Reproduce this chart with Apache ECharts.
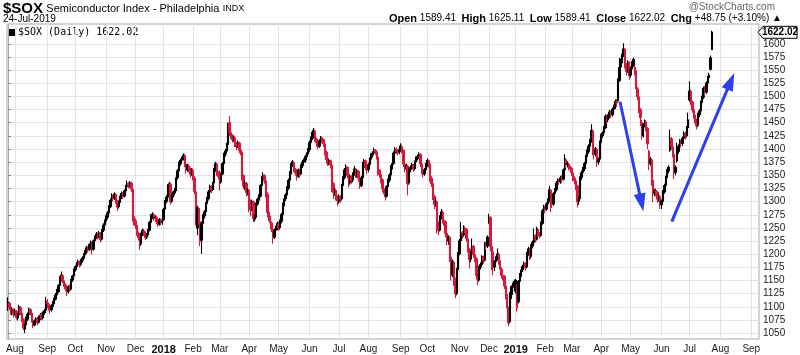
<!DOCTYPE html>
<html><head><meta charset="utf-8">
<script src="https://cdn.jsdelivr.net/npm/echarts@6/dist/echarts.min.js"></script>
<style>html,body{margin:0;padding:0;background:#fff}#c{width:800px;height:355px}</style>
</head><body><div id="c"></div>
<script>
// Month gridline positions (trading-day index) and labels
const monthTicks = [5,28,48,70,91,111,132,151,172,193,215,236,257,280,299,322,343,362,383,402,423,444,466,486,508,530];
const monthLabels = ['Aug','Sep','Oct','Nov','Dec','2018','Feb','Mar','Apr','May','Jun','Jul','Aug','Sep','Oct','Nov','Dec','2019','Feb','Mar','Apr','May','Jun','Jul','Aug','Sep'];
const priceTicks = [1050,1075,1100,1125,1150,1175,1200,1225,1250,1275,1300,1325,1350,1375,1400,1425,1450,1475,1500,1525,1550,1575,1600];
const lastClose = 1622.02;

// Daily bars [open, close, low, high], Jul 25 2017 .. Dec 29 2017
const bars2017 = [
[1100,1108,1092,1118],[1106,1098,1094,1110],[1099,1090,1085,1102],[1089,1095,1084,1099],[1094,1086,1080,1097],
[1087,1092,1083,1096],[1091,1080,1076,1094],[1079,1085,1074,1088],[1086,1100,1083,1104],[1098,1088,1084,1101],
[1087,1076,1071,1090],[1075,1060,1056,1078],[1058,1064,1050,1068],[1066,1078,1062,1081],[1077,1085,1073,1089],
[1086,1095,1082,1098],[1094,1088,1084,1097],[1087,1075,1070,1090],[1074,1065,1059,1078],[1066,1072,1063,1076],
[1071,1076,1067,1080],[1077,1070,1065,1081],[1071,1080,1068,1083],[1079,1084,1075,1088],[1085,1078,1074,1089],
[1079,1088,1076,1091],[1089,1092,1085,1096],[1094,1110,1092,1119],[1111,1106,1100,1115],[1105,1098,1093,1108],
[1097,1094,1087,1101],[1095,1102,1091,1105],[1101,1108,1098,1111],[1109,1116,1105,1119],[1115,1122,1112,1126],
[1123,1130,1119,1134],[1129,1140,1126,1143],[1141,1155,1138,1158],[1154,1160,1148,1167],[1159,1150,1145,1162],
[1149,1142,1138,1153],[1141,1135,1130,1145],[1134,1128,1120,1137],[1129,1138,1125,1141],[1137,1133,1128,1142],
[1134,1150,1131,1153],[1151,1158,1147,1161],[1159,1170,1156,1173],[1171,1176,1167,1179],[1177,1181,1172,1185],
[1182,1186,1178,1190],[1185,1180,1175,1188],[1181,1188,1177,1191],[1189,1192,1184,1196],[1193,1198,1189,1202],
[1199,1204,1194,1208],[1205,1212,1201,1216],[1211,1208,1203,1215],[1209,1218,1206,1221],[1219,1222,1214,1226],
[1221,1208,1200,1224],[1210,1225,1207,1228],[1226,1232,1222,1235],[1233,1238,1229,1242],[1237,1234,1228,1241],
[1235,1240,1231,1244],[1239,1228,1222,1242],[1229,1245,1226,1248],[1246,1255,1242,1259],[1256,1262,1252,1266],
[1263,1270,1258,1274],[1271,1278,1266,1282],[1279,1290,1276,1293],[1291,1302,1288,1306],[1303,1310,1299,1316],
[1309,1306,1300,1313],[1307,1314,1303,1318],[1313,1300,1296,1316],[1299,1290,1282,1303],[1291,1298,1287,1302],
[1299,1308,1295,1311],[1309,1315,1305,1319],[1314,1310,1305,1318],[1311,1320,1308,1323],[1321,1328,1317,1332],
[1329,1334,1325,1340],[1333,1330,1325,1337],[1331,1336,1327,1339],[1335,1324,1318,1338],[1323,1272,1262,1326],
[1271,1262,1255,1276],[1263,1255,1248,1268],[1254,1240,1235,1258],[1239,1232,1226,1243],[1231,1218,1209,1235],
[1220,1238,1216,1241],[1239,1245,1234,1249],[1244,1240,1235,1248],[1239,1232,1227,1243],[1233,1236,1229,1240],
[1237,1245,1233,1248],[1246,1260,1243,1263],[1261,1272,1258,1276],[1271,1276,1267,1280],[1275,1268,1263,1278],
[1269,1270,1264,1274],[1269,1262,1257,1272],[1261,1258,1252,1264],[1257,1266,1254,1269],[1265,1260,1255,1268],
[1261,1262,1256,1266]
];
// Jan 2 2018 .. Dec 31 2018
const bars2018 = [
[1266,1285,1263,1288],[1286,1300,1283,1303],[1301,1308,1297,1312],[1309,1330,1306,1333],[1331,1334,1326,1338],
[1333,1300,1294,1336],[1301,1312,1298,1315],[1313,1318,1308,1321],[1317,1322,1313,1326],[1323,1345,1320,1348],
[1346,1358,1342,1362],[1359,1372,1355,1376],[1373,1378,1368,1382],[1379,1382,1374,1386],[1383,1388,1378,1392],
[1387,1372,1366,1390],[1371,1360,1353,1375],[1361,1368,1357,1372],[1367,1362,1356,1371],[1361,1352,1346,1365],
[1353,1360,1349,1364],[1359,1345,1340,1363],[1344,1320,1314,1348],[1318,1262,1255,1322],[1250,1288,1236,1292],
[1287,1262,1256,1290],[1261,1225,1215,1266],[1227,1258,1201,1262],[1259,1272,1255,1276],[1273,1280,1268,1284],
[1281,1296,1277,1299],[1297,1305,1293,1309],[1306,1318,1302,1322],[1319,1328,1315,1332],[1327,1322,1316,1331],
[1323,1335,1320,1338],[1336,1360,1333,1364],[1361,1372,1357,1376],[1371,1355,1349,1374],[1354,1348,1342,1358],
[1347,1340,1321,1359],[1338,1352,1334,1355],[1353,1372,1350,1375],[1373,1390,1370,1393],[1391,1396,1386,1400],
[1397,1408,1393,1412],[1409,1445,1406,1450],[1450,1432,1425,1463],[1431,1425,1419,1436],[1424,1418,1412,1428],
[1419,1422,1414,1426],[1421,1410,1404,1424],[1409,1405,1398,1413],[1406,1412,1402,1416],[1411,1398,1392,1414],
[1397,1395,1388,1401],[1394,1350,1340,1396],[1349,1330,1324,1352],[1331,1335,1322,1340],[1334,1318,1310,1338],
[1319,1322,1312,1326],[1321,1300,1280,1324],[1299,1285,1272,1304],[1286,1300,1282,1304],[1299,1268,1261,1302],
[1267,1270,1262,1276],[1271,1295,1268,1298],[1296,1304,1292,1308],[1303,1310,1298,1314],[1311,1330,1308,1333],
[1331,1345,1328,1348],[1346,1350,1340,1356],[1349,1340,1334,1352],[1339,1315,1308,1342],[1314,1280,1270,1318],
[1279,1270,1263,1284],[1269,1260,1254,1273],[1259,1248,1242,1262],[1247,1232,1220,1250],[1233,1245,1229,1249],
[1246,1250,1240,1254],[1251,1258,1246,1262],[1257,1250,1244,1261],[1251,1262,1247,1266],[1263,1275,1259,1279],
[1276,1294,1272,1298],[1295,1305,1291,1309],[1306,1312,1301,1316],[1313,1325,1309,1329],[1326,1340,1322,1344],
[1341,1355,1337,1358],[1356,1372,1352,1376],[1373,1375,1366,1379],[1374,1362,1356,1377],[1361,1355,1349,1364],
[1354,1348,1340,1358],[1349,1360,1345,1363],[1359,1352,1346,1362],[1353,1368,1350,1371],[1369,1375,1364,1379],
[1376,1378,1371,1382],[1379,1385,1374,1389],[1386,1390,1381,1394],[1391,1398,1387,1402],[1399,1412,1395,1416],
[1413,1420,1408,1424],[1421,1432,1417,1436],[1433,1435,1427,1440],[1434,1420,1414,1437],[1419,1412,1405,1422],
[1411,1405,1400,1414],[1406,1415,1402,1419],[1416,1422,1411,1425],[1421,1418,1412,1424],[1417,1410,1404,1420],
[1409,1395,1388,1412],[1394,1380,1372,1397],[1379,1375,1368,1383],[1374,1378,1369,1382],[1377,1370,1363,1380],
[1369,1335,1318,1371],[1334,1318,1305,1337],[1317,1322,1311,1326],[1321,1310,1302,1324],[1309,1302,1291,1312],
[1301,1310,1296,1314],[1309,1305,1298,1312],[1306,1330,1302,1334],[1331,1345,1327,1348],[1346,1360,1342,1364],
[1361,1366,1355,1371],[1365,1350,1344,1367],[1349,1335,1327,1352],[1336,1348,1332,1352],[1347,1340,1334,1350],
[1341,1352,1337,1356],[1353,1362,1349,1368],[1361,1350,1345,1364],[1351,1358,1346,1362],[1357,1345,1338,1360],
[1344,1330,1324,1348],[1331,1345,1328,1349],[1346,1372,1343,1376],[1373,1378,1367,1381],[1377,1365,1360,1380],
[1364,1360,1352,1368],[1361,1370,1356,1374],[1371,1380,1366,1384],[1381,1388,1377,1392],[1389,1392,1384,1396],
[1393,1398,1388,1403],[1397,1395,1389,1400],[1394,1385,1380,1397],[1384,1360,1349,1386],[1359,1352,1346,1362],
[1351,1342,1335,1355],[1341,1325,1318,1344],[1324,1322,1314,1328],[1321,1310,1302,1324],[1311,1328,1308,1331],
[1329,1340,1325,1344],[1341,1350,1337,1354],[1351,1365,1348,1369],[1366,1372,1361,1376],[1373,1392,1370,1396],
[1393,1400,1389,1404],[1399,1396,1390,1403],[1397,1395,1388,1400],[1394,1398,1390,1402],[1399,1405,1395,1411],
[1404,1398,1392,1408],[1397,1372,1366,1399],[1371,1362,1356,1375],[1363,1368,1358,1372],[1367,1335,1312,1370],
[1336,1360,1332,1363],[1361,1365,1356,1369],[1366,1370,1361,1374],[1369,1362,1357,1372],[1363,1375,1359,1378],
[1376,1382,1371,1386],[1383,1385,1378,1389],[1386,1390,1381,1394],[1389,1372,1366,1392],[1371,1358,1352,1374],
[1357,1352,1346,1361],[1353,1360,1349,1364],[1361,1370,1356,1374],[1371,1378,1366,1382],[1377,1372,1365,1380],
[1371,1345,1338,1374],[1344,1335,1328,1348],[1334,1310,1303,1337],[1309,1295,1286,1313],[1296,1300,1290,1306],
[1299,1255,1240,1302],[1254,1245,1236,1262],[1246,1270,1243,1274],[1271,1280,1266,1286],[1279,1265,1258,1283],
[1264,1262,1254,1270],[1261,1240,1232,1264],[1239,1225,1217,1243],[1226,1232,1218,1236],[1231,1195,1185,1234],
[1194,1160,1150,1198],[1161,1185,1156,1190],[1184,1150,1140,1188],[1149,1125,1116,1155],[1126,1170,1122,1174],
[1171,1200,1168,1204],[1201,1225,1198,1229],[1226,1240,1222,1261],[1239,1238,1230,1244],[1237,1250,1233,1255],
[1249,1248,1240,1253],[1247,1230,1224,1250],[1229,1210,1203,1233],[1209,1190,1173,1212],[1191,1200,1185,1204],
[1201,1215,1196,1230],[1214,1200,1193,1218],[1199,1192,1185,1203],[1191,1160,1152,1194],[1159,1150,1141,1164],
[1151,1175,1148,1178],[1176,1180,1171,1184],[1181,1195,1177,1198],[1194,1188,1182,1197],[1189,1220,1186,1223],
[1219,1215,1208,1223],[1216,1232,1212,1236],[1262,1270,1258,1277],[1269,1215,1205,1272],[1214,1205,1170,1218],
[1204,1175,1160,1207],[1176,1185,1168,1189],[1186,1192,1180,1196],[1193,1200,1188,1211],[1199,1185,1180,1203],
[1184,1172,1167,1188],[1171,1160,1154,1175],[1159,1158,1150,1166],[1157,1140,1134,1161],[1139,1120,1114,1143],
[1119,1098,1091,1124],[1097,1070,1063,1100],[1072,1125,1068,1128],[1124,1138,1115,1141],[1137,1140,1130,1146],
[1139,1148,1135,1152]
];
// Jan 2 2019 .. Jul 24 2019
const bars2019 = [
[1130,1150,1125,1153],[1140,1098,1091,1143],[1110,1148,1106,1151],[1149,1160,1145,1164],[1161,1170,1157,1174],
[1171,1176,1166,1180],[1177,1182,1172,1186],[1181,1175,1169,1184],[1176,1200,1173,1204],[1201,1210,1197,1214],
[1209,1195,1189,1212],[1196,1215,1192,1219],[1216,1222,1211,1226],[1223,1235,1219,1249],[1234,1228,1222,1238],
[1229,1248,1226,1252],[1247,1238,1232,1250],[1237,1235,1230,1242],[1236,1258,1233,1262],[1259,1282,1256,1286],
[1283,1290,1278,1294],[1289,1285,1278,1292],[1286,1295,1282,1299],[1296,1302,1291,1306],[1303,1322,1299,1330],
[1321,1298,1280,1324],[1297,1295,1288,1301],[1296,1315,1292,1318],[1316,1322,1311,1326],[1323,1335,1319,1339],
[1336,1340,1331,1344],[1339,1338,1332,1343],[1339,1345,1334,1349],[1344,1342,1336,1350],[1343,1360,1340,1363],
[1361,1380,1357,1390],[1379,1370,1364,1383],[1371,1372,1365,1377],[1371,1365,1359,1374],[1364,1362,1355,1368],
[1363,1355,1349,1366],[1354,1345,1339,1358],[1344,1340,1333,1348],[1339,1330,1322,1343],[1329,1300,1289,1332],
[1301,1305,1294,1310],[1306,1345,1303,1348],[1346,1355,1341,1359],[1356,1362,1351,1366],[1363,1372,1358,1376],
[1373,1385,1369,1389],[1386,1395,1381,1399],[1396,1405,1391,1409],[1406,1415,1400,1419],[1416,1435,1412,1447],
[1434,1395,1388,1437],[1394,1390,1380,1398],[1391,1400,1386,1404],[1399,1375,1366,1402],[1376,1380,1370,1384],
[1381,1412,1378,1416],[1413,1425,1409,1429],[1426,1430,1421,1434],[1431,1440,1426,1444],[1441,1462,1438,1466],
[1461,1455,1449,1465],[1456,1462,1451,1466],[1463,1470,1458,1474],[1469,1465,1459,1473],[1466,1475,1462,1479],
[1476,1480,1471,1484],[1481,1490,1476,1494],[1489,1488,1480,1495],[1492,1530,1490,1534],[1531,1555,1528,1573],
[1556,1568,1550,1572],[1569,1580,1563,1585],[1581,1590,1575,1601],[1589,1560,1553,1592],[1559,1548,1540,1563],
[1549,1565,1545,1569],[1564,1540,1532,1567],[1541,1552,1536,1557],[1553,1562,1548,1567],[1561,1570,1556,1574],
[1555,1548,1540,1560],[1547,1515,1508,1550],[1514,1500,1493,1518],[1499,1475,1468,1502],[1474,1460,1444,1478],
[1450,1425,1418,1455],[1426,1445,1422,1449],[1446,1452,1441,1456],[1451,1440,1434,1455],[1439,1410,1400,1442],
[1395,1372,1360,1398],[1373,1380,1368,1385],[1379,1345,1330,1382],[1340,1315,1299,1343],[1316,1320,1310,1324],
[1321,1318,1310,1326],[1317,1305,1298,1320],[1306,1310,1300,1314],[1309,1295,1286,1312],[1294,1300,1286,1304],
[1301,1318,1297,1322],[1319,1330,1315,1334],[1331,1345,1327,1349],[1346,1358,1342,1362],[1359,1365,1354,1369],
[1398,1420,1395,1437],[1419,1405,1399,1423],[1404,1390,1384,1408],[1389,1355,1343,1392],[1356,1365,1350,1369],
[1378,1395,1374,1412],[1396,1405,1391,1409],[1406,1415,1401,1419],[1414,1410,1403,1418],[1411,1420,1406,1424],
[1421,1430,1416,1434],[1429,1425,1418,1433],[1426,1440,1422,1444],[1441,1455,1437,1469],[1494,1510,1490,1529],
[1509,1490,1484,1513],[1489,1475,1469,1492],[1474,1465,1458,1478],[1464,1455,1449,1468],[1454,1445,1437,1458],
[1446,1465,1442,1469],[1466,1472,1461,1476],[1473,1488,1469,1492],[1489,1498,1484,1502],[1499,1515,1495,1519],
[1514,1508,1500,1520],[1509,1525,1505,1529],[1526,1535,1521,1539],[1536,1540,1531,1545],[1552,1573.27,1550,1578],
[1589.41,1622.02,1589.41,1625.11]
];
// Annotation arrows [fromIndex, fromPrice, toIndex, toPrice]
const arrows = [[436.4,1490,451.7,1298],[473.3,1262,515.4,1529]];

const allBars = bars2017.concat(bars2018, bars2019);
const data = allBars.map((b, i) => [i, b[0], b[1], b[2], b[3]]);

const FONT = 'Liberation Sans, Arial, sans-serif';
const RED = '#d6193d';
const chart = echarts.init(document.getElementById('c'));
chart.setOption({
  animation: false,
  textStyle: {fontFamily: FONT},
  grid: {left: 7, right: 41, top: 24, bottom: 14, show: true, borderColor: '#a8a8a8', borderWidth: 1},
  xAxis: {
    type: 'value', min: -0.71, max: 535.5,
    axisLine: {show: false}, axisTick: {show: false, customValues: monthTicks},
    axisLabel: {customValues: monthTicks, fontSize: 10, color: '#222', margin: 5, fontFamily: FONT,
      formatter: v => { const k = monthTicks.indexOf(v); const s = k >= 0 ? monthLabels[k] : ''; return /^\d{4}$/.test(s) ? '{b|' + s + '}' : s; },
      rich: {b: {fontWeight: 'bold', fontSize: 11, fontFamily: FONT, color: '#111'}}},
    splitLine: {show: true, lineStyle: {color: '#e3e3e3', width: 1}}
  },
  yAxis: {
    type: 'value', position: 'right', min: 1038.7, max: 1637.8,
    axisLine: {show: true, lineStyle: {color: '#a8a8a8'}},
    axisTick: {show: true, length: 3, customValues: priceTicks, lineStyle: {color: '#888'}},
    axisLabel: {customValues: priceTicks, fontSize: 10, color: '#222', margin: 4, fontFamily: FONT, formatter: v => String(v)},
    splitLine: {show: true, lineStyle: {color: '#e3e3e3', width: 1}}
  },
  series: [{
    type: 'candlestick', data: data, encode: {x: 0, y: [1, 2, 3, 4]},
    barWidth: 1.9, silent: true,
    itemStyle: {color: '#000', color0: RED, borderColor: '#000', borderColor0: RED, borderWidth: 1.1},
    markLine: {
      silent: true, animation: false, symbol: ['none', 'triangle'], symbolSize: [12, 18],
      lineStyle: {color: '#2e3ff0', width: 3, type: 'solid', opacity: 1},
      label: {show: false}, emphasis: {disabled: true},
      data: arrows.map(a => [{coord: [a[0], a[1]]}, {coord: [a[2], a[3]]}])
    }
  }],
  graphic: [
    {type: 'text', left: 3, top: 1, style: {text: '{a|$SOX} {b|Semiconductor Index - Philadelphia} {c|INDX}',
      rich: {a: {fontSize: 15, fontWeight: 'bold', fontFamily: FONT, fill: '#000'},
             b: {fontSize: 11, fontFamily: FONT, fill: '#000'},
             c: {fontSize: 9, fontFamily: FONT, fill: '#000'}}}},
    {type: 'text', left: 3, top: 14, style: {text: '24-Jul-2019', fontSize: 10, fontFamily: FONT, fill: '#000'}},
    {type: 'text', left: 18, top: 27, style: {text: '$SOX (Daily) 1622.02', fontSize: 10, fontFamily: 'DejaVu Sans Mono, monospace', fill: '#000'}},
    {type: 'rect', left: 9, top: 29, shape: {width: 6, height: 7}, style: {fill: '#000'}},
    {type: 'text', right: 25, top: 2, style: {text: '@StockCharts.com', fontSize: 10, fontFamily: FONT, fill: '#666'}},
    {type: 'text', right: 18, top: 13, style: {text: '{l|Open} 1589.41  {l|High} 1625.11  {l|Low} 1589.41  {l|Close} 1622.02  {l|Chg} +48.75 (+3.10%) \u25B2',
      fontSize: 10, fontFamily: FONT, fill: '#000', rich: {l: {fontSize: 11, fontWeight: 'bold', fontFamily: FONT, fill: '#000'}}}}
  ]
});
// price tag at the right axis, positioned through the axis scale
const py = chart.convertToPixel({gridIndex: 0}, [0, lastClose])[1];
chart.setOption({graphic: [
  {id: 'tag', type: 'polygon', shape: {points: [[758, py], [763, py - 6], [797, py - 6], [797, py + 6], [763, py + 6]]},
   style: {fill: '#fff', stroke: '#000', lineWidth: 1}, z: 50},
  {id: 'tagtxt', type: 'text', x: 780, y: py, z: 51, style: {text: lastClose.toFixed(2), fontSize: 10, fontWeight: 'bold', fontFamily: FONT, fill: '#000', align: 'center', verticalAlign: 'middle'}}
]});
</script></body></html>
